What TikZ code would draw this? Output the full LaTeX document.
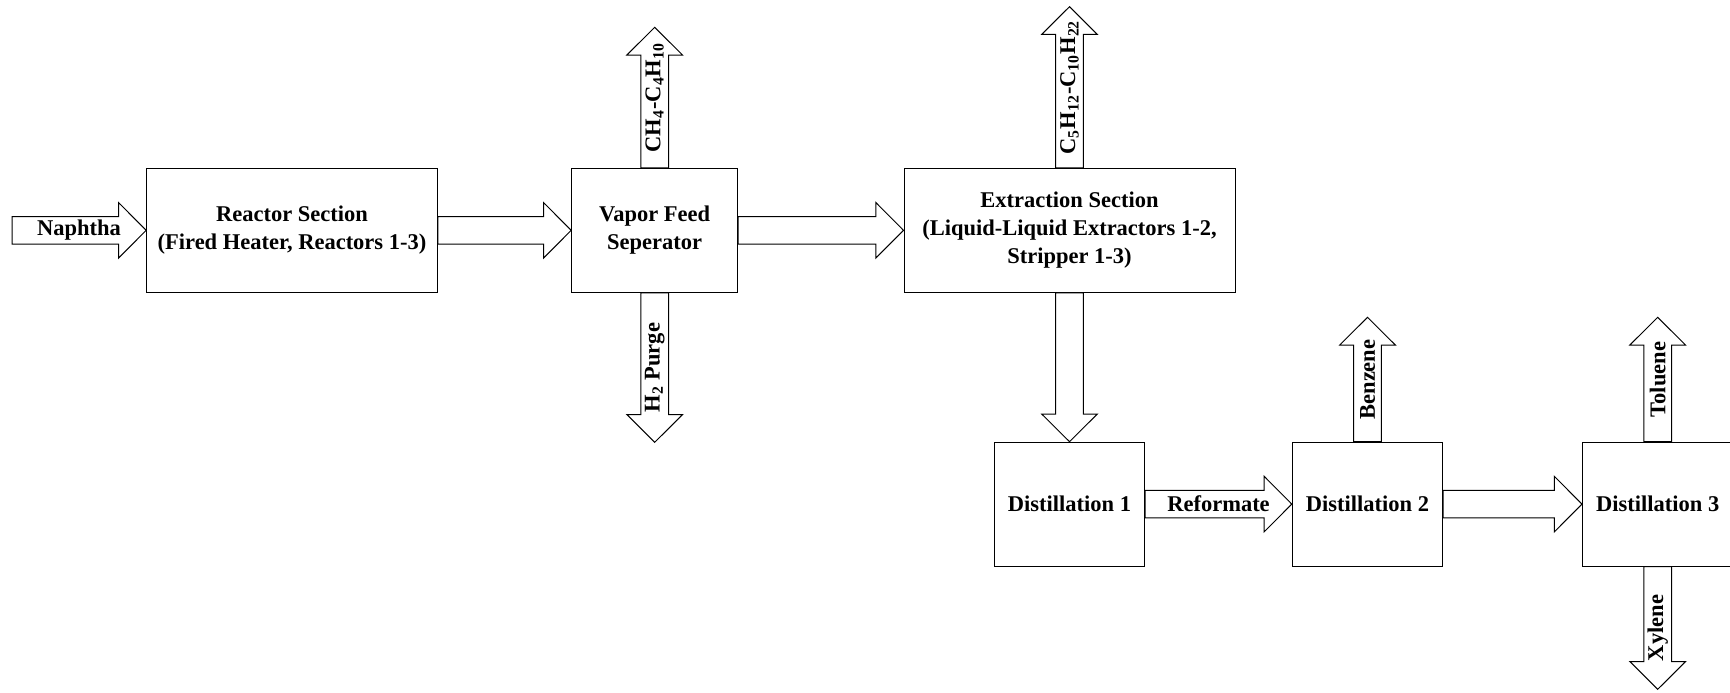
\documentclass[tikz,border=0pt]{standalone}
\usepackage{fontspec}
\setmainfont{Liberation Serif}
\usetikzlibrary{calc}

% hollow block arrow between two points
\newcommand{\shaft}{6.9pt}
\newcommand{\head}{13.9pt}
\newcommand{\headlen}{13.85pt}
\newcommand{\flow}[2]{%
  \coordinate (hb) at ($(#2)!\headlen!(#1)$);
  \draw ($(#1)!\shaft!90:(#2)$) -- ($(hb)!\shaft!90:(#2)$) -- ($(hb)!\head!90:(#2)$) -- (#2)
    -- ($(hb)!\head!-90:(#2)$) -- ($(hb)!\shaft!-90:(#2)$) -- ($(#1)!\shaft!-90:(#2)$) -- cycle;}

\tikzset{
  unit/.style={draw, align=center, inner sep=2pt},
  flowtext/.style={inner sep=0pt},
}

\begin{document}
\begin{tikzpicture}[x=0.5pt, y=-0.5pt, line width=0.5pt,
  font=\fontsize{11.25}{14}\selectfont\bfseries]
  \useasboundingbox (0,0) rectangle (1730,692);

  % units
  \node[unit, minimum width=145.3pt, minimum height=62pt] (reactor) at (292,230.3)
    {Reactor Section\\(Fired Heater, Reactors 1-3)};
  \node[unit, minimum width=83pt, minimum height=62pt] (vfs) at (654.7,230.3)
    {Vapor Feed\\Seperator};
  \node[unit, minimum width=165.5pt, minimum height=62pt] (extr) at (1069.5,230.3)
    {Extraction Section\\(Liquid-Liquid Extractors 1-2,\\Stripper 1-3)};
  \node[unit, minimum width=75.2pt, minimum height=61.9pt] (dist1) at (1069.5,504.1) {Distillation 1};
  \node[unit, minimum width=75.2pt, minimum height=61.9pt] (dist2) at (1367.5,504.1) {Distillation 2};
  \node[unit, minimum width=75.2pt, minimum height=61.9pt] (dist3) at (1657.7,504.1) {Distillation 3};

  % free ends
  \coordinate (feed) at (12,230.3);
  \coordinate (gas) at (654.7,27.3);
  \coordinate (purge) at (654.7,442.3);
  \coordinate (light) at (1069.5,6.7);
  \coordinate (bz) at (1367.5,317.3);
  \coordinate (tol) at (1657.7,317.3);
  \coordinate (xyl) at (1657.7,689.3);

  % streams
  \flow{feed}{reactor.west}
  \flow{reactor.east}{vfs.west}
  \flow{vfs.north}{gas}
  \flow{vfs.south}{purge}
  \flow{vfs.east}{extr.west}
  \flow{extr.north}{light}
  \flow{extr.south}{dist1.north}
  \flow{dist1.east}{dist2.west}
  \flow{dist2.east}{dist3.west}
  \flow{dist2.north}{bz}
  \flow{dist3.north}{tol}
  \flow{dist3.south}{xyl}

  % stream labels
  \node[flowtext] (tnaph) at ($(feed)!0.5!(reactor.west)$) {Naphtha};
  \node[flowtext] (tref) at ($(dist1.east)!0.5!(dist2.west)$) {Reformate};
  \node[flowtext, rotate=90] (tgas) at ($(vfs.north)!0.5!(gas)$)
    {CH\textsubscript{4}-C\textsubscript{4}H\textsubscript{10}};
  \node[flowtext, rotate=90] (tpurge) at ($(vfs.south)!0.5!(purge)$) {H\textsubscript{2} Purge};
  \node[flowtext, rotate=90] (tlight) at ($(extr.north)!0.5!(light)$)
    {C\textsubscript{5}H\textsubscript{12}-C\textsubscript{10}H\textsubscript{22}};
  \node[flowtext, rotate=90] (tbz) at ($(dist2.north)!0.5!(bz)$) {Benzene};
  \node[flowtext, rotate=90] (ttol) at ($(dist3.north)!0.5!(tol)$) {Toluene};
  \node[flowtext, rotate=90] (txyl) at ($(dist3.south)!0.5!(xyl)$) {Xylene};
\end{tikzpicture}
\end{document}
